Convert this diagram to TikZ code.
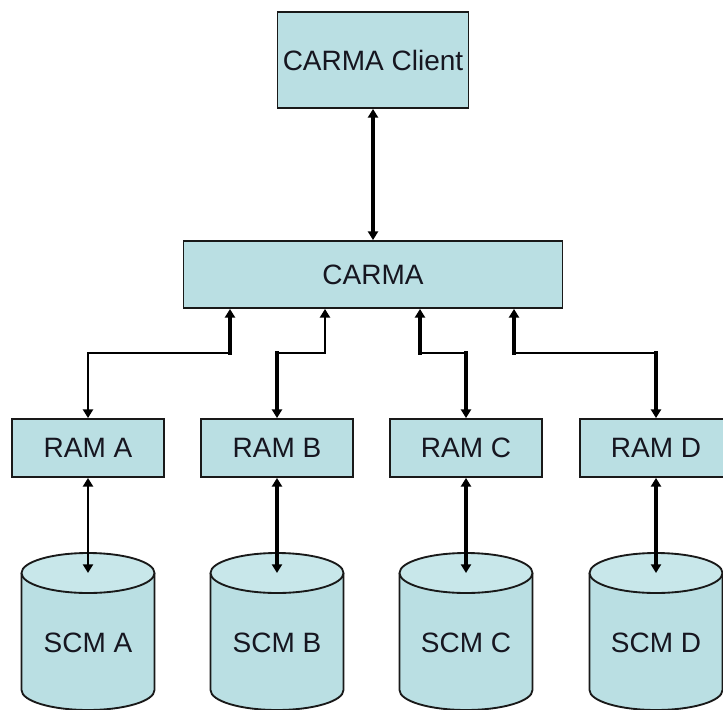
\documentclass[tikz,border=0pt]{standalone}
\usepackage{fontspec}
\setmainfont{Liberation Sans}
\usetikzlibrary{arrows.meta}
\definecolor{boxfill}{RGB}{186,223,227}
\definecolor{topfill}{RGB}{200,231,234}
\definecolor{edgec}{RGB}{25,25,25}
\definecolor{txt}{RGB}{22,22,32}
\newcommand\mycyl[3]{%
  \fill[boxfill] ({#1-66.5},573) -- ({#1-66.5},690)
     arc[start angle=180,end angle=360,x radius=49.875pt,y radius=15pt]
     -- ({#1+66.5},573) -- cycle;
  \draw[cyledge] ({#1-66.5},573) -- ({#1-66.5},690)
     arc[start angle=180,end angle=360,x radius=49.875pt,y radius=15pt]
     -- ({#1+66.5},573);
  \draw[cyledge,fill=topfill] (#1,573) ellipse [x radius=49.875pt,y radius=15pt];
  \coordinate (#2top) at (#1,573);
  \node[lbl] (#2) at (#1,643) {#3};
}
\begin{document}
\begin{tikzpicture}[x=0.75pt,y=-0.75pt,
  lbl/.style={font=\fontsize{21}{24}\selectfont,text=txt,inner sep=0pt},
  box/.style={lbl,draw=edgec,line width=1.4pt,fill=boxfill},
  cyledge/.style={draw=edgec,line width=1.4pt},
  thickc/.style={line width=2.7pt,line cap=rect,draw=black},
  thinc/.style={line width=1.7pt,line cap=rect,draw=black},
  tp/.tip={Triangle[length=6.5pt,width=7.5pt]}]
\useasboundingbox (0,0) rectangle (723,709);
\fill[white] (0,0) rectangle (723,709);
\clip (0,0) rectangle (723,709);

% boxes
\node[box,minimum width=143.25pt,minimum height=72pt] (client) at (373,60) {CARMA Client};
\node[box,minimum width=284.25pt,minimum height=50.25pt] (carma) at (373,274.5) {CARMA};
\node[box,minimum width=114pt,minimum height=43.5pt] (ramA) at (88,448) {RAM A};
\node[box,minimum width=114pt,minimum height=43.5pt] (ramB) at (277,448) {RAM B};
\node[box,minimum width=114pt,minimum height=43.5pt] (ramC) at (466,448) {RAM C};
\node[box,minimum width=114pt,minimum height=43.5pt] (ramD) at (656,448) {RAM D};

% cylinders
\mycyl{88}{scmA}{SCM A}
\mycyl{277}{scmB}{SCM B}
\mycyl{466}{scmC}{SCM C}
\mycyl{656}{scmD}{SCM D}

% client <-> carma
\draw[thickc,tp-tp] (client.south) -- (carma.north -| client.south);

% elbows
\coordinate (a1) at (230,353); \coordinate (a2) at (88,353);
\coordinate (b1) at (325,353); \coordinate (b2) at (277,353);
\coordinate (c1) at (420,353); \coordinate (c2) at (466,353);
\coordinate (d1) at (514,353); \coordinate (d2) at (656,353);

% A
\draw[thickc,-tp] (a1) -- (a1 |- carma.south);
\draw[thinc] (a1) -- (a2);
\draw[thinc,-tp] (a2) -- (ramA.north);
% B
\draw[thinc,-tp] (b1) -- (b1 |- carma.south);
\draw[thinc] (b1) -- (b2);
\draw[thickc,-tp] (b2) -- (ramB.north);
% C
\draw[thickc,-tp] (c1) -- (c1 |- carma.south);
\draw[thinc] (c1) -- (c2);
\draw[thickc,-tp] (c2) -- (ramC.north);
% D
\draw[thickc,-tp] (d1) -- (d1 |- carma.south);
\draw[thinc] (d1) -- (d2);
\draw[thickc,-tp] (d2) -- (ramD.north);

% RAM <-> SCM
\draw[thinc,tp-tp] (ramA.south) -- (scmAtop);
\draw[thickc,tp-tp] (ramB.south) -- (scmBtop);
\draw[thickc,tp-tp] (ramC.south) -- (scmCtop);
\draw[thickc,tp-tp] (ramD.south) -- (scmDtop);
\end{tikzpicture}
\end{document}
